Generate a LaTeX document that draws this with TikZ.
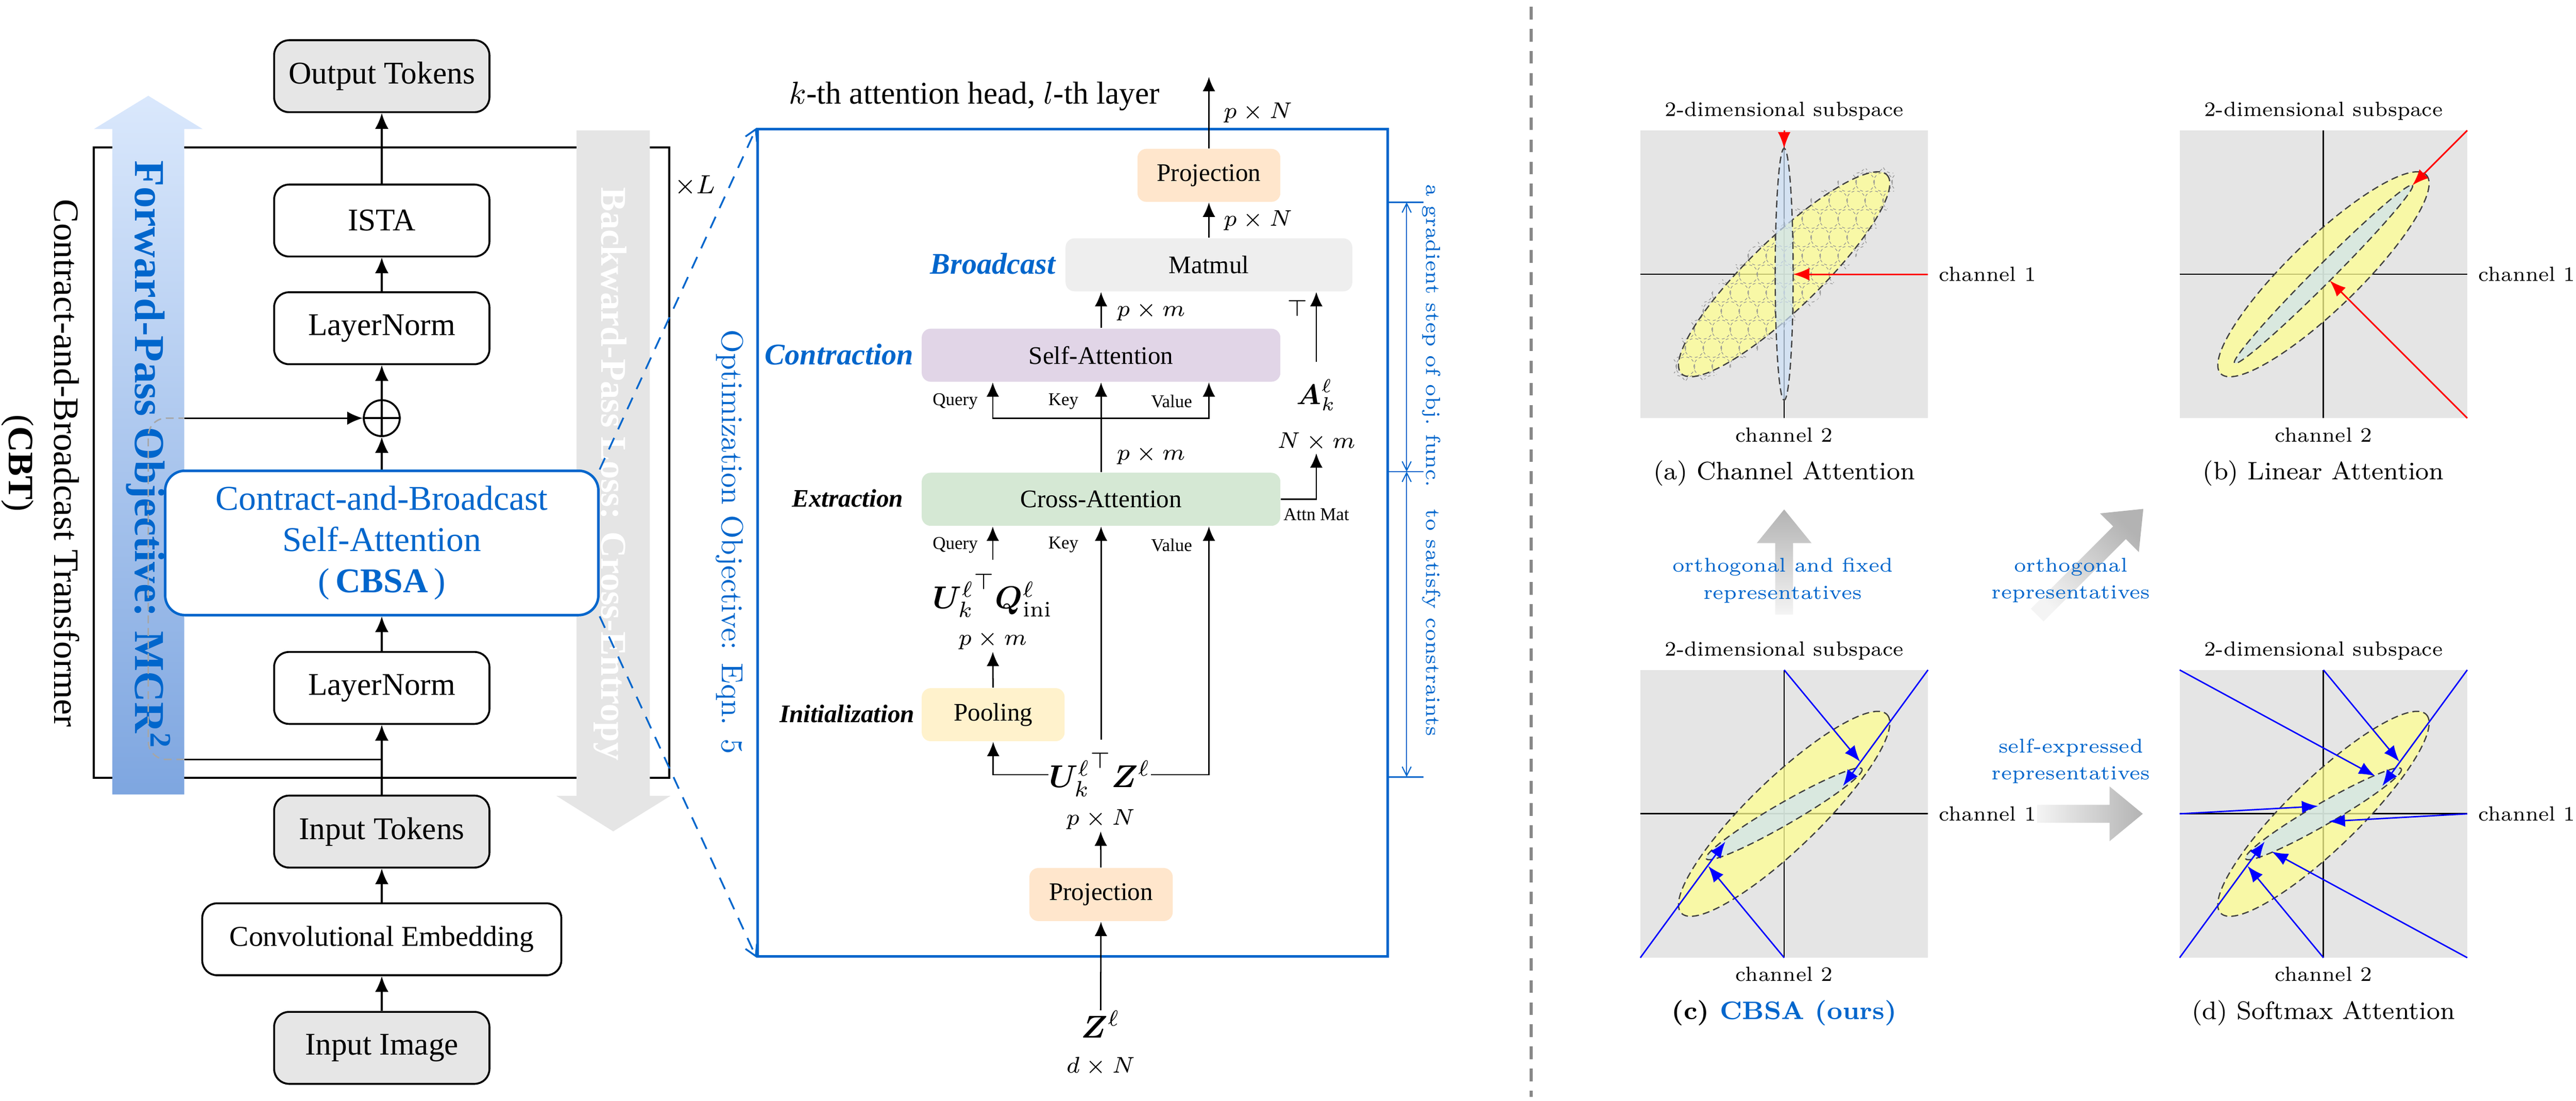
\documentclass[tikz,border=0pt]{standalone}
\usepackage{fix-cm}
\usepackage{amsmath,amssymb,bm}
\usepackage{fontspec}
\newfontfamily\tnr{Liberation Serif}
\usetikzlibrary{arrows.meta}

\definecolor{cbblue}{RGB}{0,102,204}
\definecolor{tokgray}{RGB}{230,230,230}
\definecolor{projcol}{RGB}{255,230,204}
\definecolor{matcol}{RGB}{238,238,238}
\definecolor{sacol}{RGB}{225,213,231}
\definecolor{cacol}{RGB}{213,232,212}
\definecolor{poolcol}{RGB}{255,242,204}
\definecolor{fwdtop}{RGB}{218,232,252}
\definecolor{fwdbot}{RGB}{126,166,224}
\definecolor{bwdgray}{RGB}{229,229,229}
\definecolor{sqgray}{RGB}{229,229,229}
\definecolor{ellyel}{RGB}{255,255,145}
\definecolor{ellblue}{RGB}{205,226,248}
\definecolor{elldark}{RGB}{64,64,64}
\definecolor{arrdark}{RGB}{179,179,179}
\definecolor{arrlight}{RGB}{244,244,244}
\definecolor{divgray}{RGB}{136,136,136}

\begin{document}
\begin{tikzpicture}[x=0.5cm,y=-0.5cm,
box/.style={draw,line width=0.6pt,rounded corners=0.165cm,minimum width=2.395cm,minimum height=0.8cm,inner sep=0pt,font=\tnr\fontsize{10}{12}\selectfont},
tok/.style={box,fill=tokgray},
arr/.style={line width=0.55pt,-{Latex[length=0.175cm,width=0.15cm]}},
opbox/.style={rounded corners=0.1cm,minimum height=0.59cm,inner sep=0pt,font=\tnr\fontsize{8}{9.6}\selectfont},
marr/.style={line width=0.45pt,-{Latex[length=0.16cm,width=0.14cm]}},
dimlbl/.style={inner sep=0.5pt,font=\fontsize{7.2}{8.6}\selectfont},
qkv/.style={inner sep=0pt,font=\tnr\fontsize{5.7}{6.8}\selectfont},
stage/.style={inner sep=0pt,anchor=east,font=\tnr\bfseries\itshape\fontsize{8}{9.6}\selectfont},
bigmath/.style={inner sep=0pt,font=\fontsize{10}{12}\selectfont},
axis/.style={line width=0.45pt},
hatch/.style={draw=gray!85,line width=0.2pt,dash pattern=on 0.9pt off 0.9pt},
elldash/.style={draw=elldark,line width=0.4pt,dash pattern=on 2.2pt off 1.3pt},
redarr/.style={red,line width=0.5pt,-{Latex[length=0.18cm,width=0.14cm]}},
bluarr/.style={blue,line width=0.45pt,-{Latex[length=0.18cm,width=0.14cm]}},
ptxt/.style={inner sep=0pt,font=\fontsize{6.5}{7.8}\selectfont},
capt/.style={inner sep=0pt,font=\fontsize{8}{9.6}\selectfont},
reptxt/.style={align=center,text=cbblue,font=\fontsize{6.3}{8.5}\selectfont}]
\useasboundingbox (0,0) rectangle (57.32,24.48);

% transformer column
\node[draw,line width=0.6pt,minimum width=6.40cm,minimum height=7.01cm,inner sep=0pt] (blk) at (8.49,10.29) {};
\node[inner sep=0pt,anchor=west,font=\fontsize{8.3}{10}\selectfont] (times) at (15.00,4.13) {$\times L$};
\shade[top color=fwdtop,bottom color=fwdbot] (2.50,17.67) -- (2.50,2.87) -- (2.09,2.87) -- (3.30,2.13) -- (4.51,2.87) -- (4.10,2.87) -- (4.10,17.67) -- cycle;
\fill[bwdgray] (12.83,2.90) -- (14.46,2.90) -- (14.46,17.70) -- (14.92,17.70) -- (13.645,18.49) -- (12.38,17.70) -- (12.83,17.70) -- cycle;
\node[rotate=-90,text=cbblue,font=\tnr\bfseries\fontsize{13.5}{16}\selectfont] (fwd) at (3.30,10.12) {Forward-Pass Objective: MCR\textsuperscript{2}};
\node[rotate=-90,text=white,font=\tnr\bfseries\fontsize{11.5}{14}\selectfont] (bwd) at (13.58,10.54) {Backward-Pass Loss: Cross-Entropy};
\node[rotate=-90,align=center,font=\tnr\fontsize{11.3}{14.4}\selectfont] (cbt) at (0.90,10.30) {Contract-and-Broadcast Transformer\\(\textbf{CBT})};

\node[tok] (out) at (8.495,1.695) {Output Tokens};
\node[box] (ista) at (8.495,4.905) {ISTA};
\node[box] (ln1) at (8.495,7.30) {LayerNorm};
\node[draw,circle,line width=0.6pt,minimum size=0.4cm,inner sep=0pt] (add) at (8.495,9.30) {};
\draw[line width=0.6pt] (add.north) -- (add.south) (add.west) -- (add.east);
\node[draw=cbblue,fill=white,line width=0.8pt,rounded corners=0.22cm,minimum width=4.82cm,minimum height=1.605cm,align=center,text=cbblue,font=\tnr\fontsize{11}{13.1}\selectfont] (cbsa) at (8.495,12.075) {Contract-and-Broadcast\\Self-Attention\\(\,\textbf{CBSA}\,)};
\node[box] (ln2) at (8.495,15.30) {LayerNorm};
\node[tok] (intok) at (8.495,18.495) {Input Tokens};
\node[box,minimum width=3.995cm,font=\tnr\fontsize{9.1}{11}\selectfont] (conv) at (8.495,20.89) {Convolutional Embedding};
\node[tok] (inimg) at (8.495,23.305) {Input Image};

\draw[arr] (inimg) -- (conv);
\draw[arr] (conv) -- (intok);
\draw[arr] (intok) -- (ln2);
\draw[arr] (ln2) -- (cbsa);
\draw[arr] (cbsa) -- (add);
\draw[arr] (add) -- (ln1);
\draw[arr] (ln1) -- (ista);
\draw[arr] (ista) -- (out);

\coordinate (rb) at (8.495,16.89);
\coordinate (rl) at (4.10,16.89);
\coordinate (ru) at (4.10,9.30);
\draw[line width=0.55pt] (rb) -- (rl);
\draw[gray!70,line width=0.45pt,dash pattern=on 2.5pt off 1.5pt,rounded corners=0.2cm] (rl) -- (3.30,16.89) -- (3.30,9.30) -- (ru);
\draw[arr] (ru) -- (add);

% attention head
\node[font=\tnr\fontsize{10}{12}\selectfont] (title) at (21.68,2.14) {$k$-th attention head, $l$-th layer};
\node[draw=cbblue,line width=0.8pt,minimum width=7.01cm,minimum height=9.20cm,inner sep=0pt] (opt) at (23.87,12.07) {};
\draw[cbblue,line width=0.55pt,dash pattern=on 4pt off 3pt,-{Straight Barb[length=0.12cm,width=0.14cm]}] (cbsa.north east) -- (opt.north west);
\draw[cbblue,line width=0.55pt,dash pattern=on 4pt off 3pt,-{Straight Barb[length=0.12cm,width=0.14cm]}] (cbsa.south east) -- (opt.south west);
\node[rotate=-90,text=cbblue,font=\fontsize{9.6}{11.5}\selectfont] (objlbl) at (16.24,12.05) {Optimization Objective: Eqn. 5};

\node[opbox,fill=projcol,minimum width=1.59cm] (proj1) at (26.90,3.90) {Projection};
\node[opbox,fill=matcol,minimum width=3.19cm] (mat) at (26.90,5.89) {Matmul};
\node[opbox,fill=sacol,minimum width=3.99cm] (sa) at (24.50,7.90) {Self-Attention};
\node[opbox,fill=cacol,minimum width=3.99cm] (ca) at (24.50,11.105) {Cross-Attention};
\node[opbox,fill=poolcol,minimum width=1.59cm] (pool) at (22.10,15.895) {Pooling};
\node[opbox,fill=projcol,minimum width=1.595cm] (proj2) at (24.50,19.895) {Projection};

\node[stage,text=cbblue,font=\tnr\bfseries\itshape\fontsize{9.5}{11.4}\selectfont] (bcast) at (23.50,5.86) {Broadcast};
\node[stage,text=cbblue,font=\tnr\bfseries\itshape\fontsize{9.5}{11.4}\selectfont] (contr) at (20.34,7.88) {Contraction};
\node[stage] (extr) at (20.11,11.08) {Extraction};
\node[stage] (init) at (20.36,15.88) {Initialization};

\node[bigmath] (uq) at (22.09,13.25) {${\bm{U}_k^{\ell}}^{\top}\bm{Q}_{\mathrm{ini}}^{\ell}$};
\node[dimlbl] (pm0) at (22.09,14.24) {$p\times m$};
\node[bigmath] (uz) at (24.47,17.23) {${\bm{U}_k^{\ell}}^{\top}\bm{Z}^{\ell}$};
\node[dimlbl] (pn0) at (24.49,18.22) {$p\times N$};
\node[bigmath] (z) at (24.49,22.78) {$\bm{Z}^{\ell}$};
\node[dimlbl] (dn) at (24.49,23.72) {$d\times N$};
\node[inner sep=0pt,font=\fontsize{9}{11}\selectfont] (amat) at (29.29,8.78) {$\bm{A}_k^{\ell}$};
\node[dimlbl] (nm) at (29.29,9.83) {$N\times m$};
\node[dimlbl] (tp) at (28.87,6.86) {$\top$};
\node[qkv] (attn) at (29.29,11.44) {Attn Mat};

\node[dimlbl,anchor=west] (pn1) at (27.18,2.51) {$p\times N$};
\node[dimlbl,anchor=west] (pn2) at (27.18,4.90) {$p\times N$};
\node[dimlbl,anchor=west] (pm1) at (24.80,6.92) {$p\times m$};
\node[dimlbl,anchor=west] (pm2) at (24.80,10.12) {$p\times m$};

\node[qkv,anchor=east] (q1) at (21.77,8.93) {Query};
\node[qkv,anchor=east] (k1) at (24.01,8.93) {Key};
\node[qkv,anchor=east] (v1) at (26.54,8.93) {Value};
\node[qkv,anchor=east] (q2) at (21.77,12.12) {Query};
\node[qkv,anchor=east] (k2) at (24.01,12.12) {Key};
\node[qkv,anchor=east] (v2) at (26.54,12.12) {Value};

\coordinate (top) at (26.90,1.71);
\coordinate (abase) at (29.29,8.05);
\coordinate (kv) at (24.50,9.30);
\coordinate (qbase) at (22.09,12.45);
\coordinate (kbase) at (24.50,16.45);
\draw[marr] (proj1) -- (top);
\draw[marr] (mat) -- (proj1);
\draw[marr] (sa.north) -- (sa.north |- mat.south);
\draw[marr] (abase) -- (abase |- mat.south);
\draw[marr] (ca) -- (sa);
\draw[marr] (kv) -| ([xshift=-1.205cm]sa.south);
\draw[marr] (kv) -| ([xshift=1.20cm]sa.south);
\draw[marr] (ca.east) -| (nm.south);
\draw[marr] (qbase) -- (qbase |- ca.south);
\draw[marr] (kbase) -- (kbase |- ca.south);
\draw[marr] (uz.east) -| ([xshift=1.20cm]ca.south);
\draw[marr] (uz.west) -| (pool.south);
\draw[marr] (pool) -- (pm0);
\draw[marr] (proj2) -- (pn0);
\draw[marr] (z) -- (proj2);

\coordinate (g1) at (31.30,4.50);
\coordinate (g2) at (31.30,10.49);
\coordinate (g3) at (31.30,17.28);
\draw[cbblue,line width=0.45pt] (30.88,4.50) -- (31.68,4.50) (30.88,10.49) -- (31.68,10.49) (30.88,17.28) -- (31.68,17.28);
\draw[cbblue,line width=0.35pt,{Straight Barb[length=0.1cm,width=0.1cm]}-{Straight Barb[length=0.1cm,width=0.1cm]}] (g1) -- (g2);
\draw[cbblue,line width=0.35pt,{Straight Barb[length=0.1cm,width=0.1cm]}-{Straight Barb[length=0.1cm,width=0.1cm]}] (g2) -- (g3);
\node[rotate=-90,text=cbblue,font=\fontsize{6.4}{7.7}\selectfont] (gstep) at (31.85,7.47) {a gradient step of obj.\ func.};
\node[rotate=-90,text=cbblue,font=\fontsize{6.4}{7.7}\selectfont] (cons) at (31.85,13.85) {to satisfy constraints};

\draw[divgray,line width=1.1pt,dash pattern=on 4pt off 3pt] (34.07,0.15) -- (34.07,24.40);

% (a)
\begin{scope}[shift={(39.70,6.10)}]
\fill[sqgray] (-3.2,-3.2) rectangle (3.2,3.2);
\draw[axis] (-3.2,0) -- (3.2,0);
\draw[axis] (0,-3.2) -- (0,3.2);
\fill[ellyel,fill opacity=0.75,rotate=44] (0,0) ellipse [x radius=3.18,y radius=0.78];
\begin{scope}
\clip[rotate=44] (0,0) ellipse [x radius=3.32,y radius=0.92];
\foreach \r in {-8,-6,...,8} \foreach \c in {-9,...,9} \draw[hatch] (\c*0.4,\r*0.41) circle [radius=0.21];
\foreach \r in {-7,-5,...,7} \foreach \c in {-9,...,9} \draw[hatch] (\c*0.4+0.2,\r*0.41) circle [radius=0.21];
\end{scope}
\draw[elldash,rotate=44] (0,0) ellipse [x radius=3.18,y radius=0.78];
\fill[ellblue,fill opacity=0.7] (0,0) ellipse [x radius=0.20,y radius=2.80];
\draw[elldash] (0,0) ellipse [x radius=0.20,y radius=2.80];
\draw[redarr] (0,-3.2) -- (0,-2.8);
\draw[redarr] (3.2,0) -- (0.2,0);
\node[ptxt] (asub) at (0,-3.63) {2-dimensional subspace};
\node[ptxt,anchor=west] (ach1) at (3.43,0) {channel 1};
\node[ptxt] (ach2) at (0,3.57) {channel 2};
\node[capt] (acap) at (0,4.43) {(a) Channel Attention};
\end{scope}

% (b)
\begin{scope}[shift={(51.70,6.10)}]
\fill[sqgray] (-3.2,-3.2) rectangle (3.2,3.2);
\draw[axis] (-3.2,0) -- (3.2,0);
\draw[axis] (0,-3.2) -- (0,3.2);
\fill[ellyel,fill opacity=0.75,rotate=44] (0,0) ellipse [x radius=3.18,y radius=0.78];
\draw[elldash,rotate=44] (0,0) ellipse [x radius=3.18,y radius=0.78];
\fill[ellblue,fill opacity=0.7,rotate=45] (0,0) ellipse [x radius=2.80,y radius=0.20];
\draw[elldash,rotate=45] (0,0) ellipse [x radius=2.80,y radius=0.20];
\draw[redarr] (3.2,-3.2) -- (1.98,-1.98);
\draw[redarr] (3.2,3.2) -- (0.14,0.14);
\node[ptxt] (bsub) at (0,-3.63) {2-dimensional subspace};
\node[ptxt,anchor=west] (bch1) at (3.43,0) {channel 1};
\node[ptxt] (bch2) at (0,3.57) {channel 2};
\node[capt] (bcap) at (0,4.43) {(b) Linear Attention};
\end{scope}

% (c)
\begin{scope}[shift={(39.70,18.10)}]
\fill[sqgray] (-3.2,-3.2) rectangle (3.2,3.2);
\draw[axis] (-3.2,0) -- (3.2,0);
\draw[axis] (0,-3.2) -- (0,3.2);
\fill[ellyel,fill opacity=0.75,rotate=44] (0,0) ellipse [x radius=3.18,y radius=0.78];
\draw[elldash,rotate=44] (0,0) ellipse [x radius=3.18,y radius=0.78];
\fill[ellblue,fill opacity=0.7,rotate=30] (0,0) ellipse [x radius=2.0,y radius=0.24];
\draw[elldash,rotate=30] (0,0) ellipse [x radius=2.0,y radius=0.24];
\draw[bluarr] (0,-3.2) -- (1.69,-1.16);
\draw[bluarr] (3.2,-3.2) -- (1.31,-0.62);
\draw[bluarr] (0,3.2) -- (-1.69,1.16);
\draw[bluarr] (-3.2,3.2) -- (-1.31,0.62);
\node[ptxt] (csub) at (0,-3.63) {2-dimensional subspace};
\node[ptxt,anchor=west] (cch1) at (3.43,0) {channel 1};
\node[ptxt] (cch2) at (0,3.57) {channel 2};
\node[capt] (ccap) at (0,4.43) {\textbf{(c) \textcolor{cbblue}{CBSA (ours)}}};
\end{scope}

% (d)
\begin{scope}[shift={(51.70,18.10)}]
\fill[sqgray] (-3.2,-3.2) rectangle (3.2,3.2);
\draw[axis] (-3.2,0) -- (3.2,0);
\draw[axis] (0,-3.2) -- (0,3.2);
\fill[ellyel,fill opacity=0.75,rotate=44] (0,0) ellipse [x radius=3.18,y radius=0.78];
\draw[elldash,rotate=44] (0,0) ellipse [x radius=3.18,y radius=0.78];
\fill[ellblue,fill opacity=0.7,rotate=30] (0,0) ellipse [x radius=2.0,y radius=0.24];
\draw[elldash,rotate=30] (0,0) ellipse [x radius=2.0,y radius=0.24];
\draw[bluarr] (0,-3.2) -- (1.69,-1.16);
\draw[bluarr] (3.2,-3.2) -- (1.31,-0.62);
\draw[bluarr] (0,3.2) -- (-1.69,1.16);
\draw[bluarr] (-3.2,3.2) -- (-1.31,0.62);
\draw[bluarr] (-3.2,-3.2) -- (1.15,-0.84);
\draw[bluarr] (3.2,3.2) -- (-1.15,0.84);
\draw[bluarr] (-3.2,0) -- (-0.12,-0.17);
\draw[bluarr] (3.2,0) -- (0.12,0.17);
\node[ptxt] (dsub) at (0,-3.63) {2-dimensional subspace};
\node[ptxt,anchor=west] (dch1) at (3.43,0) {channel 1};
\node[ptxt] (dch2) at (0,3.57) {channel 2};
\node[capt] (dcap) at (0,4.43) {(d) Softmax Attention};
\end{scope}

% relations between the panels
\shade[top color=arrdark,bottom color=arrlight] (39.50,13.67) -- (39.50,12.08) -- (39.09,12.08) -- (39.70,11.33) -- (40.31,12.08) -- (39.90,12.08) -- (39.90,13.67) -- cycle;
\shade[top color=arrdark,bottom color=arrlight,shading angle=-45] (45.189,13.539) -- (47.020,11.708) -- (46.729,11.418) -- (47.692,11.318) -- (47.592,12.280) -- (47.302,11.990) -- (45.471,13.821) -- cycle;
\shade[left color=arrlight,right color=arrdark] (45.33,17.90) -- (46.94,17.90) -- (46.94,17.49) -- (47.68,18.10) -- (46.94,18.71) -- (46.94,18.30) -- (45.33,18.30) -- cycle;
\node[reptxt] (rep1) at (39.67,12.91) {orthogonal and fixed\\representatives};
\node[reptxt] (rep2) at (46.08,12.91) {orthogonal\\representatives};
\node[reptxt] (rep3) at (46.08,16.93) {self-expressed\\representatives};
\end{tikzpicture}
\end{document}
